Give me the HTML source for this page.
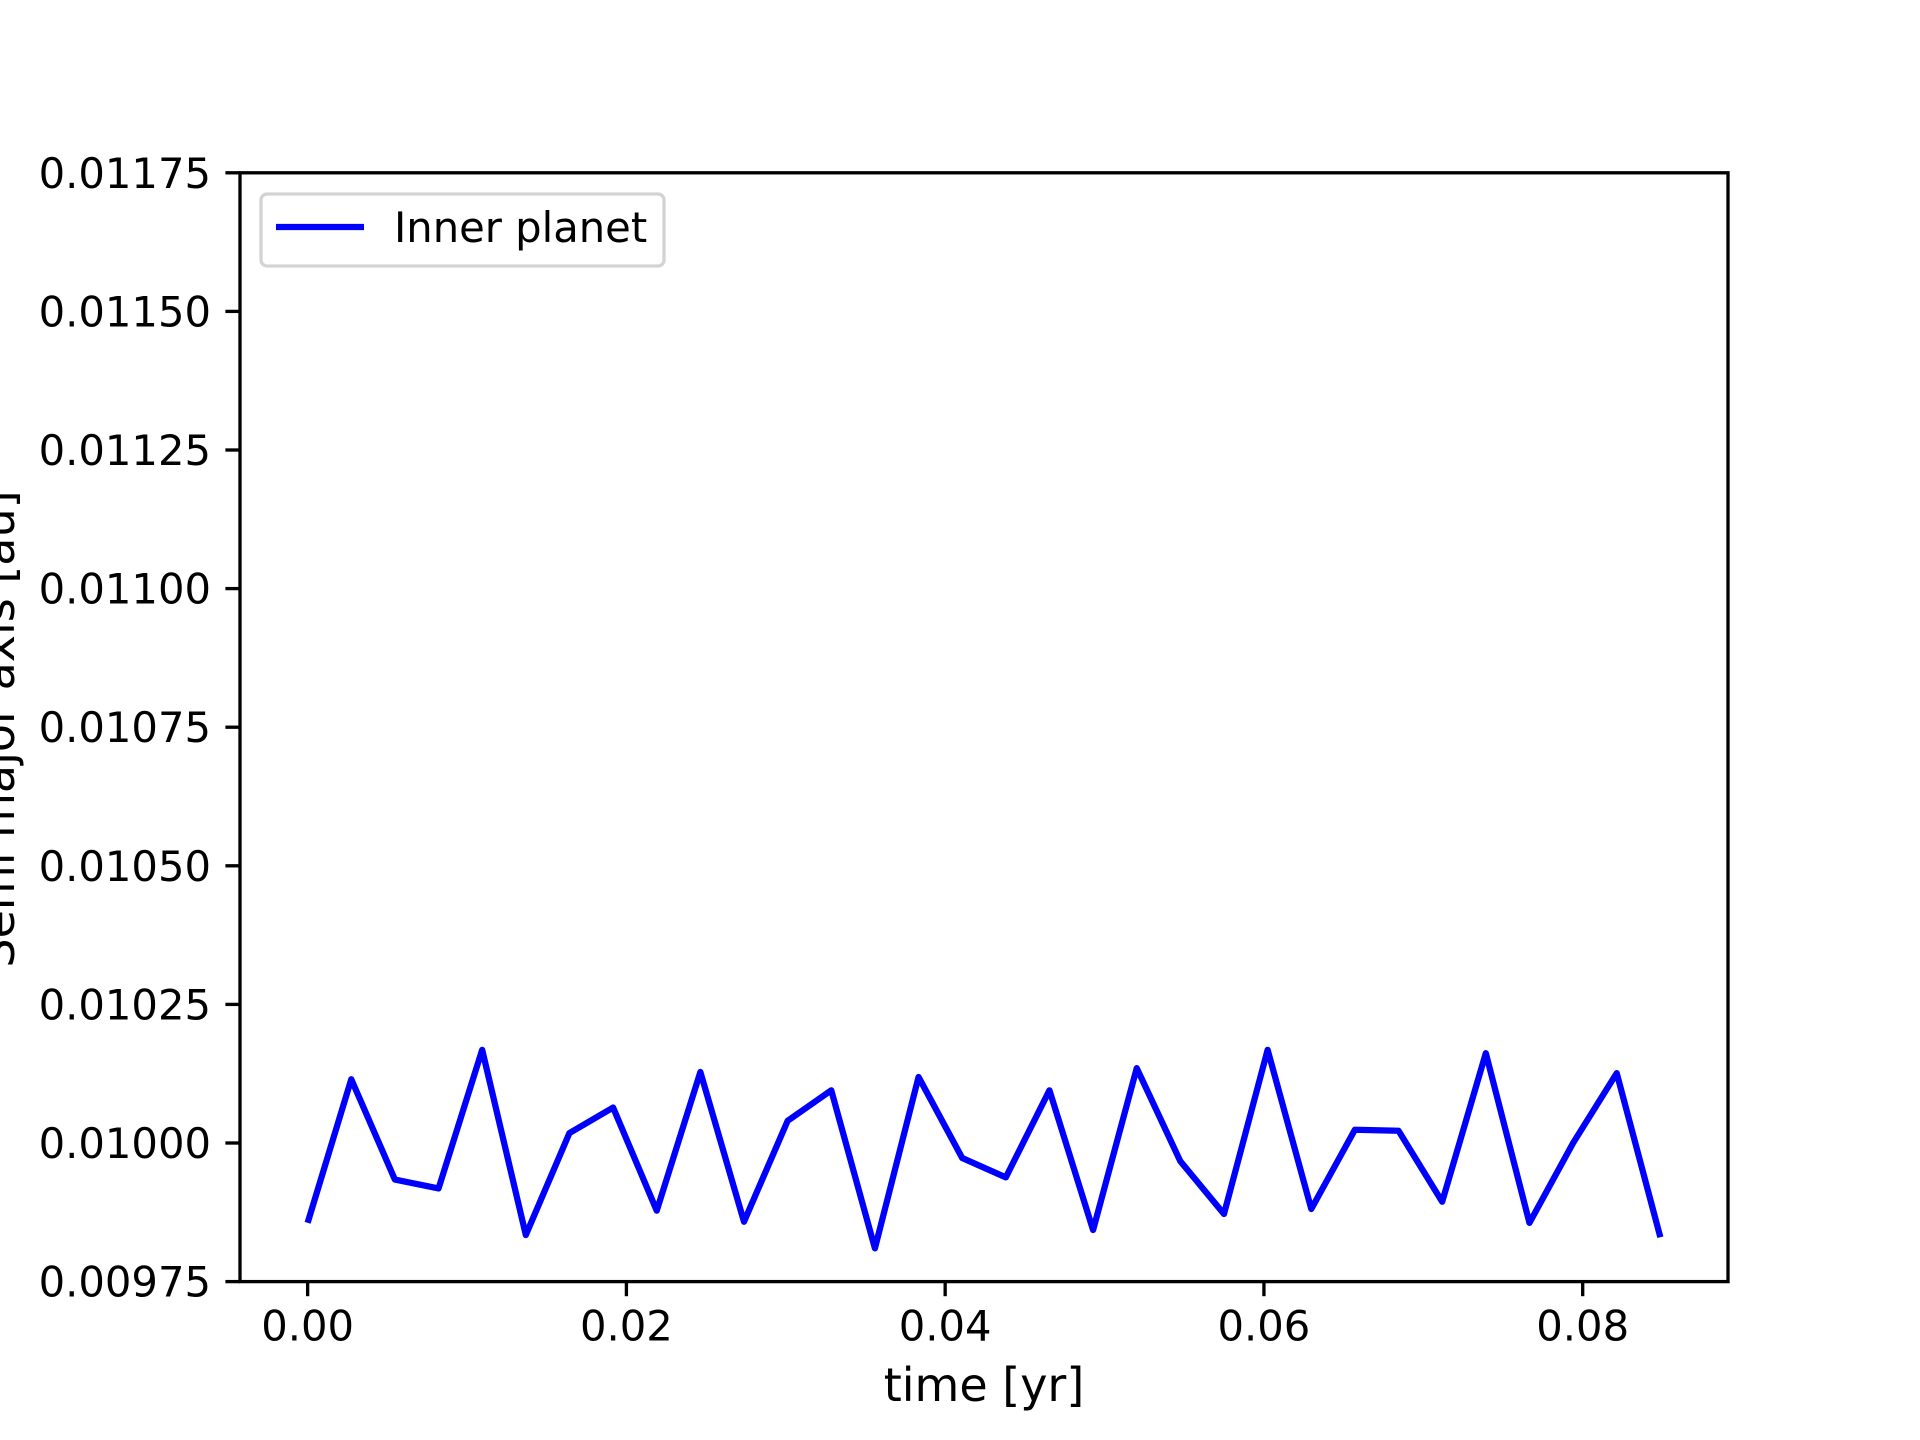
<!DOCTYPE html>
<html><head><meta charset="utf-8"><style>
html,body{margin:0;padding:0;background:#fff;}
svg{display:block;font-family:"DejaVu Sans","Liberation Sans",sans-serif;}
</style></head><body>
<svg id="chart" width="1920" height="1440" viewBox="0 0 1920 1440" xmlns="http://www.w3.org/2000/svg">
<rect x="0" y="0" width="1920" height="1440" fill="#fff"/>
<g id="plot"></g>
</svg>
<script>
const days = [0,1,2,3,4,5,6,7,8,9,10,11,12,13,14,15,16,17,18,19,20,21,22,23,24,25,26,27,28,29,30,31];
const semiMajor = [0.009856,0.010115,0.009934,0.009918,0.010168,0.009834,0.010018,0.010064,0.009878,0.010128,0.009858,0.010040,0.010095,0.009810,0.010119,0.009973,0.009938,0.010095,0.009843,0.010135,0.009967,0.009872,0.010168,0.009881,0.010024,0.010022,0.009894,0.010162,0.009856,0.010000,0.010126,0.009830];
const xTicks = [0,0.02,0.04,0.06,0.08];
const xTickLabels = ["0.00","0.02","0.04","0.06","0.08"];
const yTicks = [0.00975,0.01,0.01025,0.0105,0.01075,0.011,0.01125,0.0115,0.01175];
const yTickLabels = ["0.00975","0.01000","0.01025","0.01050","0.01075","0.01100","0.01125","0.01150","0.01175"];

const L=240,R=1728,T=172.8,B=1281.6;
const times = days.map(d=>d/365.25);
const tmin=Math.min(...times), tmax=Math.max(...times), pad=(tmax-tmin)*0.05;
const x0=tmin-pad, x1=tmax+pad, y0=0.00975, y1=0.01175;
const sx=v=>L+(v-x0)/(x1-x0)*(R-L);
const sy=v=>B-(v-y0)/(y1-y0)*(B-T);
const NS='http://www.w3.org/2000/svg';
const g=document.getElementById('plot');
function mk(tag,attrs,parent){const e=document.createElementNS(NS,tag);for(const k in attrs)e.setAttribute(k,attrs[k]);(parent||g).appendChild(e);return e;}

const pts=times.map((t,i)=>sx(t).toFixed(2)+','+sy(semiMajor[i]).toFixed(2)).join(' ');
const line=mk('polyline',{points:pts,fill:'none',stroke:'#0000ff','stroke-width':6.25,'stroke-linejoin':'round','stroke-linecap':'butt'});



const frame=mk('rect',{x:L,y:T,width:R-L,height:B-T,fill:'none',stroke:'#000','stroke-width':3.33,'stroke-linejoin':'miter'});



xTicks.forEach((v,i)=>{
  const x=sx(v);
  const t=mk('line',{x1:x,x2:x,y1:B,y2:B+14.6,stroke:'#000','stroke-width':3.33});
  
  
  const tx=mk('text',{x:x,y:B+59,'font-size':41.7,'text-anchor':'middle',fill:'#000'});
  tx.textContent=xTickLabels[i];
  
  
});
yTicks.forEach((v,i)=>{
  const y=sy(v);
  const t=mk('line',{x1:L,x2:L-14.6,y1:y,y2:y,stroke:'#000','stroke-width':3.33});
  
  
  const tx=mk('text',{x:L-29,y:y+15,'font-size':41.7,'text-anchor':'end',fill:'#000'});
  tx.textContent=yTickLabels[i];
  
  
});
const xl=mk('text',{x:(L+R)/2,y:1401,'font-size':46,'text-anchor':'middle',fill:'#000'});
xl.textContent='time [yr]';


const yl=mk('text',{x:0,y:0,'font-size':46,'text-anchor':'middle',fill:'#000',transform:'translate(14,729) rotate(-90)'});
yl.textContent='Semi major axis [au]';



const lg=mk('g',{});


const box=mk('rect',{x:261,y:194,width:403,height:72,rx:6,fill:'#fff','fill-opacity':0.8,stroke:'#d3d3d3','stroke-width':3.33},lg);


const ll=mk('line',{x1:276,x2:364,y1:227,y2:227,stroke:'#0000ff','stroke-width':6.25},lg);


const lt=mk('text',{x:394,y:242,'font-size':41.7,fill:'#000'},lg);
lt.textContent='Inner planet';


</script>
</body></html>
